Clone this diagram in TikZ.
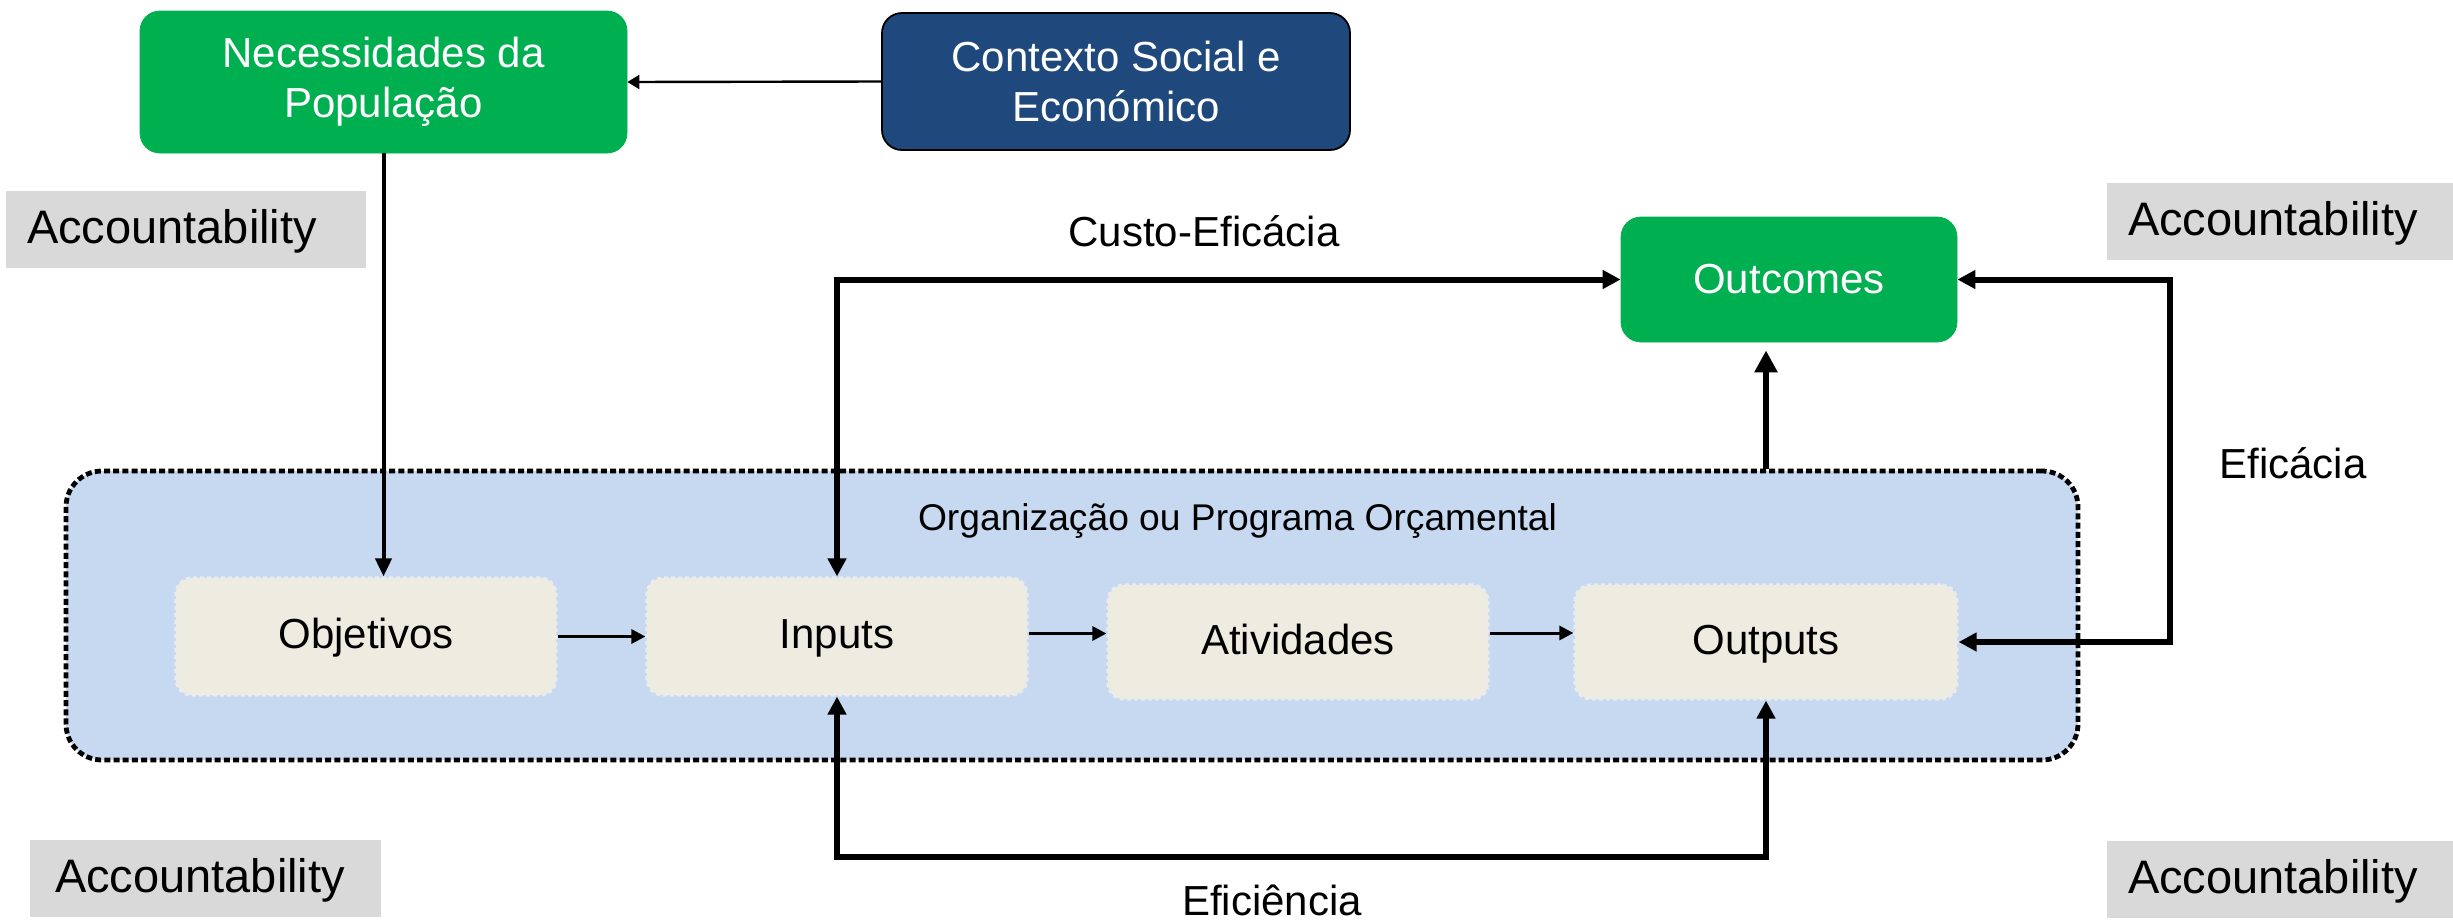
\documentclass[tikz,border=0pt]{standalone}
\usepackage{fontspec}
\setmainfont{Liberation Sans}
\usetikzlibrary{arrows.meta}
\definecolor{grn}{HTML}{00B050}
\definecolor{dblue}{HTML}{1F497D}
\definecolor{lblue}{HTML}{C6D9F0}
\definecolor{beige}{HTML}{EEECE1}
\definecolor{agray}{HTML}{D9D9D9}
\tikzset{
  txt/.style={font=\fontsize{21}{25}\selectfont},
  greenbox/.style={txt, fill=grn, draw=grn, text=white, rounded corners=10pt, align=center},
  bluebox/.style={txt, fill=dblue, draw=black, line width=0.9pt, text=white, rounded corners=10pt, align=center},
  stagebox/.style={txt, fill=beige, draw=white!92!black, line width=1.6pt, dash pattern=on 2pt off 1.5pt, rounded corners=8pt, minimum width=190pt, text height=14pt, text depth=2pt},
  accbox/.style={font=\fontsize{23.5}{28}\selectfont, fill=agray, align=left, inner xsep=10.5pt, minimum height=38.5pt, inner ysep=0pt, text height=17pt, text depth=3pt},
  container/.style={fill=lblue, draw=black, line width=2.4pt, dash pattern=on 3pt off 1.6pt, rounded corners=18pt},
  thinarrow/.style={draw=black, line width=1.2pt, -{Triangle[length=6pt,width=7pt]}},
  midarrow/.style={draw=black, line width=1.5pt, -{Triangle[length=7pt,width=7pt]}},
  neclink/.style={draw=black, line width=2pt, -{Triangle[length=9pt,width=8pt]}},
  loop/.style={draw=black, line width=3pt, {Triangle[length=9pt,width=9pt]}-{Triangle[length=9pt,width=9pt]}},
  uparrow/.style={draw=black, line width=3pt, -{Triangle[length=11pt,width=11pt]}},
}
\begin{document}
\begin{tikzpicture}[x=0.5pt,y=-0.5pt]
\useasboundingbox (0,0) rectangle (2453,922);

% container
\node[container, minimum width=1006pt, minimum height=144.5pt] (cont) at (1072,615.5) {};
\node[font=\fontsize{18.6}{22}\selectfont] (org) at (1237.5,521) {Organização ou Programa Orçamental};

% top boxes
\node[greenbox, minimum width=243.5pt, minimum height=71pt] (nec) at (383.5,82) {Necessidades da\\População};
\node[bluebox, minimum width=234pt, minimum height=68.5pt] (ctx) at (1116,81.5) {Contexto Social e\\Económico};
\node[greenbox, minimum width=168pt, minimum height=62.5pt] (oc) at (1789,279.5) {Outcomes};

% stages
\node[stagebox, minimum height=58.5pt] (obj) at (366,636.5) {Objetivos};
\node[stagebox, minimum height=58.5pt] (inp) at (837,636.5) {Inputs};
\node[stagebox, minimum height=57pt] (atv) at (1298,642) {Atividades};
\node[stagebox, minimum height=57pt, minimum width=191pt] (outp) at (1766,642) {Outputs};

% accountability labels
\node[accbox, text width=159pt] (acc1) at (186,229.5) {Accountability};
\node[accbox, text width=152pt] (acc2) at (2280,221.5) {Accountability};
\node[accbox, text width=150.5pt, inner xsep=12.5pt] (acc3) at (205.5,878.5) {Accountability};
\node[accbox, text width=152pt] (acc4) at (2280,879) {Accountability};

% labels
\node[txt] (lce) at (1204,231.5) {Custo-Eficácia};
\node[txt] (lef) at (2293,463) {Eficácia};
\node[txt] (lei) at (1272,900) {Eficiência};

% helper coordinates
\coordinate (efx) at (2170,460);
\coordinate (bot) at (1300,857);

% connectors
\draw[thinarrow] (ctx.west) -- (nec.east);
\draw[neclink] (nec.south) -- (nec.south |- obj.north);
\draw[midarrow] (obj.east) -- (inp.west);
\draw[midarrow] ([yshift=1.5pt]inp.east) -- ([yshift=1.5pt]inp.east -| atv.west);
\draw[midarrow] ([yshift=4.5pt]atv.east) -- ([yshift=4.5pt]atv.east -| outp.west);
\draw[loop] (oc.west) -| (inp.north);
\draw[loop] (oc.east) -| (efx) |- (outp.east);
\draw[loop] (inp.south) |- (bot) -| (outp.south);
\draw[uparrow] (outp.north |- cont.north) -- ([yshift=-4pt]outp.north |- oc.south);
\end{tikzpicture}
\end{document}
